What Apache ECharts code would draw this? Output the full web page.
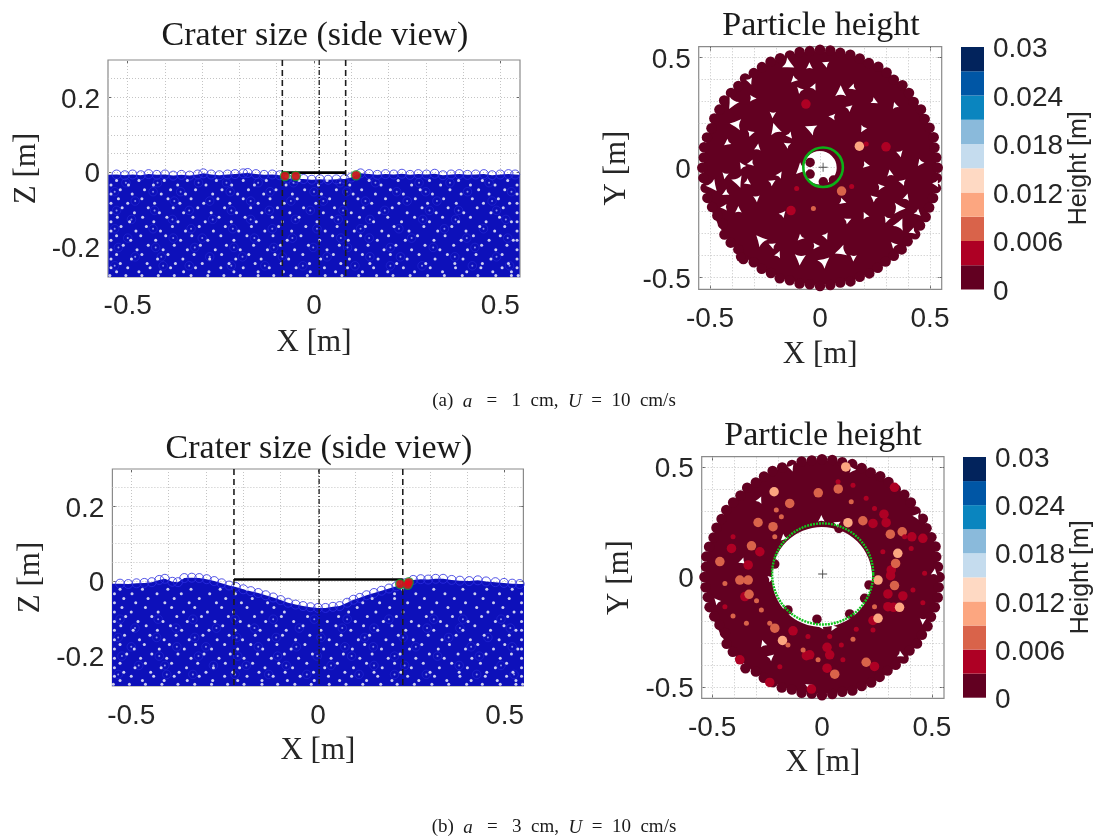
<!DOCTYPE html>
<html><head><meta charset="utf-8">
<style>html,body{margin:0;background:#fff}#c{width:1095px;height:839px;filter:blur(.4px)}</style>
<script src="https://cdn.jsdelivr.net/npm/echarts@6/dist/echarts.min.js"></script></head>
<body><div id="c"></div>
<script>
// All particle positions are in millimetres.
const surfaceA=[-552,-7,-530,-6,-508,-8,-487,-6,-465,-8,-444,-5,-422,-7,-400,-6,-378,-9,-356,-7,-334,-9,-312,-6,-297,-3,-276,-6,-254,-8,-232,-6,-212,-5,-190,-3,-178,-2,-156,-5,-134,-7,-112,-6,-92,-8,-72,-17,-50,-18,-28,-18,-6,-20,16,-19,38,-20,60,-19,82,-18,100,-14,125,-3,148,-5,170,-7,192,-5,214,-6,236,-4,258,-7,280,-5,302,-6,324,-4,346,-8,368,-6,390,-5,412,-7,434,-6,456,-5,478,-8,500,-6,522,-5,540,-6,552,-7];
const surfaceB=[-552,-7,-530,-7,-508,-8,-486,-6,-465,-5,-445,-3,-425,3,-410,6,-390,-2,-375,-3,-358,8,-338,9,-318,8,-298,5,-278,0,-258,-6,-238,-12,-220,-16,-200,-22,-180,-27,-160,-32,-140,-38,-120,-44,-100,-51,-80,-58,-60,-63,-40,-67,-20,-70,0,-72,20,-72,40,-69,58,-67,78,-58,95,-50,112,-45,130,-38,150,-32,170,-26,190,-20,210,-14,232,-6,255,3,275,5,295,4,315,6,335,6,358,3,380,1,405,0,428,2,450,-1,475,-3,498,-5,520,-7,540,-8,552,-8];
// white gaps between side-view particles: [z, x, x, ...]
const upperGapsA=[[-22,-530,-470,-402,-340,-262,-190,-128,-40,35,148,226,310,388,452,520],[-34,-545,-498,-431,-366,-290,-221,-160,-75,12,96,180,262,340,420,486,545],[-47,-520,-455,-385,-318,-247,-176,-102,-25,60,128,205,285,365,442,512],[-58,-545,-488,-410,-345,-272,-205,-135,-58,20,105,165,240,318,395,470,545],[-71,-525,-462,-392,-330,-258,-190,-118,-45,42,118,192,272,348,425,495],[-83,-545,-500,-428,-360,-296,-226,-150,-80,5,82,155,228,305,382,455,525,545]];
const upperGapsB=[[-22,-530,-470,-402,-340,-262,-190,226,310,388,452,520],[-34,-545,-498,-431,-366,-290,-221,205,262,340,420,486,545],[-47,-520,-455,-385,-318,-247,-176,145,205,285,365,442,512],[-58,-545,-488,-410,-345,-272,-205,-135,120,165,240,318,395,470,545],[-71,-525,-462,-392,-330,-258,-190,-118,105,192,272,348,425,495],[-83,-545,-500,-428,-360,-296,-226,-150,-90,82,155,228,305,382,455,525,545]];
const lowerGaps=[[-95,-515,-445,-378,-312,-240,-170,-98,-28,55,132,210,290,360,438,508],[-108,-545,-482,-415,-350,-276,-208,-140,-65,25,100,175,250,328,402,475,545],[-120,-528,-460,-395,-325,-255,-185,-112,-40,48,122,198,270,345,420,498],[-132,-545,-495,-430,-365,-292,-222,-155,-85,8,88,160,235,310,388,462,530,545],[-145,-518,-450,-380,-308,-238,-168,-95,-22,62,138,215,295,370,445,512],[-157,-545,-478,-412,-345,-270,-202,-132,-60,30,108,182,255,332,408,485,545],[-170,-530,-465,-398,-328,-250,-180,-110,-35,50,125,200,278,352,428,500],[-182,-545,-492,-425,-358,-285,-215,-148,-72,15,92,170,245,322,395,470,535,545],[-195,-512,-445,-375,-305,-235,-162,-90,-15,68,145,220,298,375,450,518],[-207,-545,-475,-405,-340,-265,-198,-125,-52,35,112,188,262,338,412,488,545],[-220,-530,-462,-392,-322,-248,-175,-105,-30,52,130,205,282,358,435,505],[-232,-545,-490,-420,-352,-280,-210,-142,-68,18,95,172,250,325,400,475,545],[-244,-520,-448,-372,-300,-228,-158,-88,-12,72,150,222,300,378,452,522],[-255,-545,-500,-440,-385,-318,-250,-190,-120,-48,28,90,160,240,312,380,448,505,545],[-266,-530,-470,-412,-350,-282,-215,-150,-82,-10,58,130,198,270,345,410,480,530],[-276,-548,-505,-462,-418,-375,-330,-285,-242,-198,-150,-108,-62,-18,30,75,120,168,212,258,305,350,398,440,488,530,548]];
const faintGaps=[[-28,-505,-420,-310,-235,-150,-55,70,165,282,365,470],[-52,-535,-432,-358,-225,-118,0,88,222,300,412,530],[-77,-480,-375,-280,-170,-62,25,138,250,330,478],[-102,-530,-428,-335,-222,-120,-10,78,190,310,388,490],[-126,-490,-380,-272,-170,-50,65,150,292,380,515],[-151,-535,-432,-330,-218,-112,8,125,228,350,455],[-176,-500,-378,-300,-160,-58,72,148,262,410,520],[-201,-525,-425,-320,-215,-108,-2,90,205,320,432],[-226,-480,-410,-280,-192,-85,35,150,232,378,490],[-250,-535,-405,-335,-222,-132,-30,110,205,290,425,525]];
// white gaps of the top views: x0,y0,x1,y1,...
const gapsABig=[94,350,-45,179,-91,-11,-371,-68,364,-185,364,-253,-273,-326,91,-382,-91,-420,-139,467,23,-424,-205,179,-386,198,-401,289,-485,-86];
const gapsASmall=[-48,464,23,474,-121,398,-318,391,-303,315,-27,371,-94,356,144,364,-215,239,250,300,136,274,341,285,53,232,194,174,-136,144,-311,159,-283,95,-152,106,-424,111,364,62,212,12,-182,-30,-356,12,-318,20,-432,-38,-326,-68,-215,-64,318,-23,371,-64,454,20,530,-76,280,-86,394,-132,242,-136,-432,-117,-288,-142,106,-155,-167,-208,205,-215,-439,-180,303,-238,447,-208,129,-238,-371,-189,-220,-351,-91,-321,27,-314,-15,-356,-189,-392,333,-348,417,-291,152,-412];
const gapsB=[-3,267,65,244,-177,176,-139,494,141,489,-283,353,-480,-108,-367,70,459,-203,361,-355,-230,-362,-268,-301,426,277,50,-233,-3,-226,-230,-6,512,24,-64,-495];
// rim of the bed: radius in mm, one value every 5 degrees
const rimRadii=[535,530,528,535,530,525,530,520,528,530,522,528,530,525,528,532,530,535,536,532,534,528,530,532,528,525,530,525,528,532,528,530,525,532,535,530,535,532,528,530,522,515,510,530,530,525,542,525,530,528,535,530,535,532,538,535,530,535,528,530,525,520,522,525,520,528,525,530,528,532,535,533];
// coloured particles in the top views, by height class
const particlesA={h0105:[179,98],h0075:[98,-106],h0045:[300,95,-64,289,-132,-195],h0:[-45,24,-45,-29,15,-64,61,-56,-361,-405]};
const sliversA={h0075:[-30,-185],h0045:[144,-86,-106,-94,210,108]};
const particlesB={h0105:[108,501,-218,388,345,108,255,-14,353,-138,255,-188,-180,-289,118,247],h0075:[-17,383,74,401,-291,248,-223,229,186,256,311,195,365,206,335,62,330,-39,-321,142,-465,70,-336,-14,-374,-14,-332,-79,-215,-233,201,-388,58,-442,-147,335],h0045:[330,408,282,286,292,247,232,244,409,183,459,176,315,32,312,6,300,-77,368,-86,300,-135,326,-138,232,-198,-336,55,-351,-89,-132,-245,-71,-358,-56,-354,23,-320,35,-354,23,-415,239,-407,-238,-480,-48,-510,-374,-377,-283,115,-412,130],h0:[77,221,-23,-192,126,-168,-155,-150,-215,59,214,-36,194,-97]};
const sliversB={h0075:[-442,-29,-344,-21,-185,274,-208,305,-215,183,133,342,239,-135,-405,-177,-344,-211,-238,-211,-276,-150,-298,-108,-155,-309,-86,-332,-18,-377,141,-283],h0045:[-405,183,73,433,141,418,239,312,201,358,376,183,406,130,467,17,414,-59,277,115,459,-117,-442,-135,95,-377,156,-238,232,-241,-192,-408,35,-271,-64,-271,88,-309]};
// particles marked on the rim in the side views
const redSideA=[-49,-10,113,-8,-78,-10], redSideB=[220,-8,243,-3,240,-10];
// crater: left edge, centre, right edge, rim height (mm)
const craterA=[-85,14,85,-1], craterB=[-225,3,227,4];
// beds and crater circles: cx, cy, outer radius, hole radius / circle radius (mm)
const bedA=[0,0,530,76], bedB=[0,0,530,228], circleA=[14,2,90], circleB=[3,14,230];
// ticks and grid
const sideXTicks=[-.5,0,.5], sideZTicks=[-.2,0,.2], planTicks=[-.5,0,.5];
const minorX=[-.5,-.4,-.3,-.2,-.1,0,.1,.2,.3,.4,.5], minorZ=[-.25,-.2,-.15,-.1,-.05,0,.05,.1,.15,.2,.25];
const cbStep=[.003,.003,.003,.003,.003,.003,.003,.003,.003,.003];
const cbColors=['#620021','#ae0024','#d9634a','#fca680','#fed9c3','#c5dcee','#8abadb','#0a85bf','#0056a5','#02235c'];

const SERIF='"Liberation Serif"',SANS='"Liberation Sans"',INK='#262626',BOX='#8a8a8a',BED='#0d10ba';
const GAP='path://M0 10Q5 7.5 10 10Q7 5 5 0Q3 5 0 10z';
const pairs=a=>{const r=[];for(let i=0;i<a.length;i+=2)r.push([a[i]/1000,a[i+1]/1000]);return r;};
const rows=l=>l.flatMap(r=>r.slice(1).map(x=>[x/1000,r[0]/1000]));
const rim=rimRadii.map((r,i)=>[r*Math.cos(i*5*Math.PI/180)/1000,r*Math.sin(i*5*Math.PI/180)/1000]);
const opt={animation:false,backgroundColor:'#fff',title:[],grid:[],xAxis:[],yAxis:[],series:[]};

function panel(b,xr,yr,xt,yt,xn,yn,xGap,yGap,xMargin){
 const g=opt.grid.length,xi=opt.xAxis.length,yi=opt.yAxis.length;
 opt.grid.push({left:b[0],top:b[1],width:b[2],height:b[3],show:true,borderColor:BOX,borderWidth:1.2,backgroundColor:'#fff'});
 const ax=(pos,ticks,label,name,gap,r,margin,extra)=>({type:'value',gridIndex:g,position:pos,min:r[0],max:r[1],
   axisLine:{show:false,onZero:false},splitLine:{show:false},
   axisTick:{show:true,inside:true,length:4,customValues:ticks,lineStyle:{color:'#666',width:1}},
   axisLabel:Object.assign({show:label,customValues:ticks,margin:margin,hideOverlap:false,color:INK,fontFamily:SANS,fontSize:28},extra),
   name:name,nameLocation:'middle',nameGap:gap,nameTextStyle:{fontFamily:SERIF,fontSize:31,color:INK}});
 opt.xAxis.push(ax('bottom',xt,true,xn,xGap,xr,xMargin,{}),ax('top',xt,false,'',0,xr,8,{}));
 opt.yAxis.push(ax('left',yt,true,yn,yGap,yr,8,{verticalAlign:'top',lineHeight:5}),ax('right',yt,false,'',0,yr,8,{}));
 opt.series.push({type:'line',xAxisIndex:xi,yAxisIndex:yi,z:1,showSymbol:false,silent:true,data:[[0,0]],lineStyle:{width:0},
   markLine:{z:1,silent:true,symbol:'none',animation:false,label:{show:false},lineStyle:{type:[1,2],color:'#c4c4c4',width:1},
   data:minorX.map(v=>({xAxis:v})).concat((yn==='Z [m]'?minorZ:minorX).map(v=>({yAxis:v})))}});
 return {xAxisIndex:xi,yAxisIndex:yi};
}
function side(ix,surface,upper,red,crater){
 const s=(o)=>opt.series.push(Object.assign({},ix,o));
 const surf=pairs(surface);
 s({type:'line',z:2,data:surf,showSymbol:false,lineStyle:{width:0},areaStyle:{color:BED,opacity:1,origin:'start'}});
 s({type:'scatter',z:3,data:surf.filter(p=>Math.abs(p[0])<.545),symbolSize:9,itemStyle:{color:'rgba(0,0,0,0)',borderColor:'#2a2ce0',borderWidth:1}});
 const faint=rows(faintGaps).filter(p=>p[1]<=-.085||upper===upperGapsA);
 s({type:'scatter',z:3,symbolSize:8.5,itemStyle:{color:'rgba(0,0,0,0)',borderColor:'#2a2ed8',borderWidth:1,opacity:.5},data:faint});
 s({type:'scatter',z:3,symbolSize:2,itemStyle:{color:'#aab0f4'},data:faint});
 s({type:'scatter',z:3,symbolSize:3,itemStyle:{color:'#fff'},data:rows(upper).concat(rows(lowerGaps))});
 const top=.3,bot=-.28,dash={color:'#1c1c1c',width:1.6,type:[6,4]};
 [crater[0],crater[2]].forEach(x=>s({type:'line',z:4,showSymbol:false,lineStyle:dash,data:[[x/1000,top],[x/1000,bot]]}));
 s({type:'line',z:4,showSymbol:false,lineStyle:{color:'#1c1c1c',width:1.3,type:[5,2,1,2]},data:[[crater[1]/1000,top],[crater[1]/1000,bot]]});
 s({type:'line',z:5,showSymbol:false,lineStyle:{color:'#000',width:2.6},data:[[crater[0]/1000,crater[3]/1000],[crater[2]/1000,crater[3]/1000]]});
 s({type:'scatter',z:5,symbolSize:10.5,itemStyle:{color:'#1c9a2c'},data:pairs(red)});
 s({type:'scatter',z:6,symbolSize:8,itemStyle:{color:'#e8001a'},data:pairs(red)});
}
function plan(ix,bed,circle,gapsBig,gapsSmall,parts,slivers,dotted){
 const s=(o)=>opt.series.push(Object.assign({},ix,o));
 s({type:'custom',z:2,encode:{x:0,y:1},data:[bed.map(v=>v/1000)],clip:false,silent:true,renderItem:(p,api)=>{
   const c=api.coord([api.value(0),api.value(1)]);
   return {type:'ring',shape:{cx:c[0],cy:c[1],r:api.size([api.value(2),0])[0],r0:api.size([api.value(3),0])[0]},style:{fill:cbColors[0]}};}});
 const dots=(data,color,size,z,symbol)=>s({type:'scatter',z:z,symbol:symbol||'circle',symbolSize:size,itemStyle:{color:color,opacity:1},data:data,
   symbolRotate:symbol?(v,p)=>p.dataIndex*67%360:0});
 dots(rim,cbColors[0],10.5,3);
 dots(pairs(parts.h0),cbColors[0],9.5,3);
 dots(pairs(gapsBig),'#fff',11,4,GAP);
 dots(pairs(gapsSmall),'#fff',6.5,4,GAP);
 dots(pairs(parts.h0045),cbColors[1],9.5,5);
 dots(pairs(parts.h0075),cbColors[2],9.5,5);
 dots(pairs(parts.h0105),cbColors[3],9.5,5);
 dots(pairs(slivers.h0045),cbColors[1],5,5);
 dots(pairs(slivers.h0075),cbColors[2],5,5);
 s({type:'custom',z:6,encode:{x:0,y:1},data:[circle.map(v=>v/1000)],clip:false,silent:true,renderItem:(p,api)=>{
   const c=api.coord([api.value(0),api.value(1)]);
   return {type:'circle',shape:{cx:c[0],cy:c[1],r:api.size([api.value(2),0])[0]},
     style:{fill:'none',stroke:dotted?'#12c41e':'#0cb018',lineWidth:dotted?2.4:2.6,lineDash:dotted?[2,1]:null}};}});
 s({type:'scatter',z:7,symbol:'path://M4.5 0h1v4.5h4.5v1h-4.5v4.5h-1v-4.5h-4.5v-1h4.5z',symbolSize:9,itemStyle:{color:'#222'},data:[[circle[0]/1000,circle[1]/1000]]});
}
function colorbar(b,gap){
 const g=opt.grid.length,xi=opt.xAxis.length,yi=opt.yAxis.length;
 opt.grid.push({left:b[0],top:b[1],width:b[2],height:b[3]});
 opt.xAxis.push({type:'category',gridIndex:g,data:['h'],show:false});
 opt.yAxis.push({type:'value',gridIndex:g,position:'right',min:0,max:.03,interval:.006,axisLine:{show:false},axisTick:{show:false},splitLine:{show:false},
   axisLabel:{margin:9,verticalAlign:'top',lineHeight:5,color:INK,fontFamily:SANS,fontSize:28,formatter:v=>String(+v.toFixed(3))},
   name:'Height [m]',nameLocation:'middle',nameGap:gap,nameRotate:90,nameTextStyle:{fontFamily:SANS,fontSize:25,color:INK}});
 cbStep.forEach((v,i)=>opt.series.push({type:'bar',xAxisIndex:xi,yAxisIndex:yi,stack:'cb'+g,barWidth:'100%',itemStyle:{color:cbColors[i]},data:[v]}));
}
const titleAt=(text,x,y,size)=>opt.title.push({text,left:x,top:y,textAlign:'center',textStyle:{fontFamily:SERIF,fontWeight:'normal',fontSize:size,color:'#1a1a1a'}});
const caption=(text,x,y)=>opt.title.push({text,left:x,top:y,textAlign:'center',textStyle:{fontFamily:SERIF,fontWeight:'normal',fontSize:19,color:'#1a1a1a',rich:{i:{fontFamily:SERIF,fontStyle:'italic',fontSize:19,color:'#1a1a1a'}}}});

titleAt('Crater size (side view)',310,14,34);
titleAt('Particle height',816,4,34);
titleAt('Crater size (side view)',314,427,34);
titleAt('Particle height',818,414,34);
caption('(a)  {i|a}   =   1  cm,  {i|U}  =  10  cm/s',549,387);
caption('(b)  {i|a}   =   3  cm,  {i|U}  =  10  cm/s',549,813);

side(panel([108,60,412,217],[-.553,.553],[-.28,.3],sideXTicks,sideZTicks,'X [m]','Z [m]',50,66,15),surfaceA,upperGapsA,redSideA,craterA);
plan(panel([698.7,46.7,243,242.6],[-.5514,.5532],[-.5527,.55],planTicks,planTicks,'X [m]','Y [m]',50,66,16),bedA,circleA,gapsABig,gapsASmall,particlesA,sliversA,false);
side(panel([112.4,469,411,217],[-.5505,.55],[-.281,.3],sideXTicks,sideZTicks,'X [m]','Z [m]',49,66,16),surfaceB,upperGapsB,redSideB,craterB);
plan(panel([701.7,456.7,242.3,241.6],[-.5476,.5553],[-.552,.5475],planTicks,planTicks,'X [m]','Y [m]',49,66,16),bedB,circleB,[],gapsB,particlesB,sliversB,true);
colorbar([961,47,23,242.5],82);
colorbar([963,457,23,240.7],80);
echarts.init(document.getElementById('c'),null,{renderer:'canvas'}).setOption(opt);
</script></body></html>
